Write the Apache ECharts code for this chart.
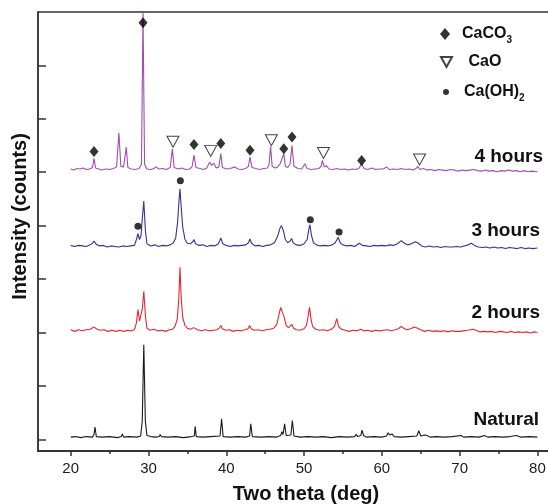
<!DOCTYPE html>
<html>
<head>
<meta charset="utf-8">
<script src="https://cdn.jsdelivr.net/npm/echarts@6/dist/echarts.min.js"></script>
<style>
  html, body { margin: 0; padding: 0; background: #fff; }
  #main { width: 548px; height: 504px; }
</style>
</head>
<body>
<div id="main"></div>
<script>
// XRD patterns, traces as [two theta, intensity above baseline]
var natural = [[20,0],[20.6,0.01],[21.3,-0.01],[22,0.01],[22.8,0],[23.0,0.05],[23.12,0.19],[23.3,0.01],[24,0],[25,0.01],[26,-0.01],[26.5,0.01],[26.65,0.06],[26.8,0],[27.5,0.01],[28.5,0],[29.0,0.02],[29.2,0.3],[29.4,1.73],[29.6,0.3],[29.8,0.03],[30.3,0.01],[31,0],[31.4,0.01],[31.5,0.05],[31.65,0.01],[32.5,0],[33.5,0.01],[34.5,-0.01],[35.5,0.01],[35.9,0.02],[36.0,0.2],[36.15,0.01],[37,0],[38,0.01],[39.2,0.02],[39.4,0.34],[39.6,0.01],[40.5,0],[41.5,0.01],[42.5,0],[43.0,0.02],[43.15,0.25],[43.35,0.01],[44.5,0],[45.5,0.01],[46.5,0],[47.0,0.03],[47.15,0.1],[47.3,0.05],[47.5,0.25],[47.7,0.03],[48.3,0.04],[48.5,0.31],[48.7,0.02],[49.5,0],[50.5,0.01],[51.5,0],[52.5,0.01],[53.5,-0.01],[54.5,0.01],[55.5,0],[56.5,0.01],[56.7,0.05],[56.9,0.01],[57.3,0.03],[57.45,0.13],[57.65,0.03],[58,0],[59,0.01],[60,0],[60.6,0.02],[60.8,0.08],[61.0,0.04],[61.3,0.06],[61.6,0.01],[62.5,0],[63.5,0.01],[64.5,0.02],[64.75,0.12],[65,0.02],[65.5,0.04],[65.8,0.03],[66.2,0],[67,0.01],[68,0],[69,0.01],[70.2,0.03],[70.5,0],[71.5,0.01],[72.5,0],[73.2,0.03],[73.6,0],[74.5,0.01],[75.5,0],[76.5,0.01],[77.3,0.03],[77.8,0],[79,0.01],[80,0]];
var twoHours = [[20,0.02],[20.5,-0.01],[21,0.02],[21.5,0],[22,0.02],[22.5,0.03],[23.0,0.07],[23.4,0.03],[23.8,0.01],[24.3,0.02],[24.8,-0.01],[25.3,0.01],[25.8,-0.01],[26.3,0.01],[26.8,-0.01],[27.3,0.01],[27.8,0],[28.2,0.02],[28.45,0.15],[28.65,0.40],[28.85,0.18],[29.0,0.15],[29.2,0.4],[29.4,0.74],[29.6,0.3],[29.8,0.05],[30.2,0.01],[30.7,0.03],[31.2,0],[31.7,0.01],[32.2,-0.01],[32.7,0.02],[33.1,0.03],[33.4,0.08],[33.7,0.22],[33.9,0.6],[34.05,1.19],[34.2,0.65],[34.4,0.25],[34.7,0.1],[35.0,0.05],[35.4,0.03],[35.8,0.06],[36.0,0.08],[36.3,0.02],[36.8,0],[37.3,0.02],[37.8,0],[38.3,0.01],[38.8,0.02],[39.1,0.05],[39.3,0.1],[39.5,0.04],[39.9,0.01],[40.4,0.02],[40.9,-0.01],[41.4,0.01],[41.9,0],[42.4,0.02],[42.8,0.04],[43.0,0.1],[43.2,0.04],[43.6,0.01],[44.1,0.02],[44.6,0],[45.1,0.02],[45.6,0.03],[46.1,0.05],[46.5,0.12],[46.8,0.32],[47.0,0.44],[47.2,0.35],[47.4,0.28],[47.7,0.1],[48.0,0.06],[48.25,0.08],[48.45,0.12],[48.65,0.05],[49.0,0.02],[49.5,0.01],[50.0,0.04],[50.3,0.1],[50.5,0.25],[50.7,0.44],[50.9,0.22],[51.1,0.08],[51.5,0.03],[52.0,0.01],[52.5,0.02],[53.0,0],[53.5,0.03],[53.9,0.08],[54.2,0.23],[54.45,0.08],[54.8,0.03],[55.3,0.01],[55.8,-0.01],[56.3,0.01],[56.8,0],[57.3,0.03],[57.7,0],[58.2,0.01],[58.7,-0.01],[59.2,0.01],[59.7,0],[60.2,0.01],[60.7,0.02],[61.2,0],[61.7,0.02],[62.1,0.04],[62.5,0.08],[62.8,0.05],[63.2,0.02],[63.7,0.04],[64.2,0.07],[64.6,0.05],[65.0,0.02],[65.5,-0.01],[66.0,0.01],[66.5,-0.01],[67.0,0],[67.5,-0.01],[68.0,0],[68.5,-0.02],[69.0,0],[69.5,-0.01],[70.0,-0.01],[70.5,0],[71.0,0.01],[71.4,0.02],[71.7,0.03],[72.1,0.01],[72.6,-0.02],[73.1,-0.01],[73.6,-0.02],[74.1,-0.01],[74.6,-0.03],[75.1,-0.01],[75.6,-0.02],[76.1,-0.03],[76.6,-0.01],[77.1,-0.03],[77.6,-0.02],[78.1,-0.03],[78.6,-0.02],[79.1,-0.04],[79.6,-0.02],[80,-0.03]];
var threeHours = [[20,0.01],[20.5,-0.01],[21,0.01],[21.5,0],[22,-0.01],[22.5,0.02],[22.8,0.05],[23.0,0.09],[23.3,0.03],[23.7,0],[24.2,0.01],[24.7,-0.02],[25.2,0],[25.7,-0.01],[26.2,-0.02],[26.7,0],[27.2,-0.01],[27.7,0],[28.2,0.01],[28.45,0.12],[28.65,0.23],[28.85,0.12],[29.05,0.2],[29.2,0.5],[29.4,0.84],[29.6,0.3],[29.8,0.04],[30.3,0],[30.8,0.02],[31.3,-0.01],[31.8,0.01],[32.3,0],[32.8,0.02],[33.2,0.06],[33.5,0.15],[33.75,0.45],[33.9,0.8],[34.05,1.07],[34.2,0.75],[34.4,0.35],[34.7,0.12],[35.0,0.05],[35.4,0.04],[35.7,0.08],[35.85,0.12],[36.05,0.04],[36.5,0.01],[37.0,0.02],[37.5,-0.01],[38.0,0.01],[38.5,0],[39.0,0.04],[39.3,0.15],[39.55,0.04],[40.0,0.01],[40.5,-0.01],[41.0,0.01],[41.5,0],[42.0,0.01],[42.5,0.02],[42.85,0.06],[43.05,0.13],[43.25,0.05],[43.7,0],[44.2,0.01],[44.7,-0.01],[45.2,0.01],[45.7,0.02],[46.2,0.06],[46.6,0.18],[46.9,0.33],[47.1,0.38],[47.35,0.28],[47.6,0.12],[47.9,0.06],[48.2,0.09],[48.4,0.14],[48.6,0.06],[49.0,0.02],[49.5,0.01],[50.0,0.04],[50.4,0.12],[50.6,0.3],[50.75,0.4],[50.95,0.2],[51.2,0.06],[51.6,0.02],[52.1,0],[52.6,0.01],[53.1,0],[53.6,0.02],[54.0,0.06],[54.4,0.16],[54.65,0.06],[55.0,0.02],[55.5,0],[56.0,0.01],[56.5,-0.01],[57.1,0.05],[57.5,0.01],[58.0,0],[58.5,-0.01],[59.0,0.01],[59.5,0],[60.0,0.01],[60.5,0],[61.0,0.02],[61.5,0.01],[62.0,0.04],[62.5,0.1],[62.9,0.05],[63.3,0.02],[63.8,0.04],[64.3,0.08],[64.7,0.05],[65.1,0],[65.6,-0.02],[66.1,0],[66.6,-0.02],[67.1,-0.01],[67.6,-0.03],[68.1,-0.01],[68.6,-0.02],[69.1,-0.02],[69.6,-0.01],[70.1,-0.02],[70.6,0],[71.1,0.02],[71.5,0.05],[71.9,0.01],[72.4,-0.02],[72.9,-0.03],[73.4,-0.02],[73.9,-0.04],[74.4,-0.02],[74.9,-0.04],[75.4,-0.03],[75.9,-0.05],[76.4,-0.03],[76.9,-0.04],[77.4,-0.05],[77.9,-0.03],[78.4,-0.05],[78.9,-0.04],[79.4,-0.05],[80,-0.04]];
var fourHours = [[20,0.01],[20.4,-0.01],[20.8,0.02],[21.2,0.01],[21.6,0.03],[22.0,0],[22.4,0.01],[22.8,0.04],[23.0,0.21],[23.2,0.03],[23.6,0.01],[24.0,-0.01],[24.5,0.01],[25.0,0],[25.5,0.02],[25.9,0.05],[26.2,0.69],[26.45,0.06],[26.8,0.05],[27.15,0.42],[27.35,0.04],[27.8,0.01],[28.3,0],[28.8,0.02],[29.1,0.1],[29.3,2.93],[29.5,0.1],[29.8,0.01],[30.3,0],[30.7,0.02],[31.0,0.05],[31.3,0.01],[31.8,0.02],[32.3,0],[32.8,0.04],[33.07,0.39],[33.3,0.04],[33.8,0.01],[34.3,0.03],[34.8,0],[35.3,0.01],[35.6,0.05],[35.85,0.27],[36.1,0.04],[36.6,0.02],[37.1,0],[37.5,0.03],[37.87,0.14],[38.1,0.08],[38.4,0.12],[38.7,0.03],[39.05,0.05],[39.3,0.3],[39.5,0.04],[40.0,0.01],[40.5,0.02],[41.1,0.05],[41.5,0.01],[42.0,0],[42.5,0.02],[42.85,0.06],[43.05,0.24],[43.3,0.04],[43.8,0.02],[44.3,0],[44.8,0.02],[45.3,0.03],[45.5,0.1],[45.7,0.43],[45.9,0.06],[46.3,0.03],[46.6,0.05],[46.9,0.1],[47.1,0.08],[47.4,0.3],[47.6,0.06],[47.9,0.04],[48.2,0.1],[48.45,0.45],[48.7,0.06],[49.2,0.02],[49.7,0.01],[50.1,0.11],[50.4,0.02],[50.9,0],[51.4,0.01],[51.9,0.02],[52.2,0.06],[52.35,0.17],[52.6,0.05],[52.9,0.07],[53.2,0.01],[53.7,0],[54.2,0.02],[54.7,0],[55.2,0.01],[55.7,-0.01],[56.2,0.01],[56.7,0],[57.1,0.03],[57.4,0.11],[57.7,0.02],[58.2,0],[58.7,0.03],[59.2,0],[59.7,0.01],[60.2,0.01],[60.6,0.05],[61.0,0],[61.5,0.01],[62.0,0],[62.5,0.02],[63.0,0],[63.5,0.01],[64.0,-0.01],[64.4,0.02],[64.6,0.06],[64.9,0],[65.3,0.02],[65.8,-0.01],[66.3,0],[66.8,-0.02],[67.3,0],[67.8,-0.01],[68.3,-0.02],[68.8,0],[69.3,-0.01],[69.8,-0.03],[70.3,-0.01],[70.8,-0.02],[71.3,-0.01],[71.8,0],[72.3,-0.02],[72.8,-0.03],[73.3,-0.01],[73.8,-0.03],[74.3,-0.02],[74.8,-0.04],[75.3,-0.02],[75.8,-0.03],[76.3,-0.01],[76.8,-0.03],[77.3,-0.02],[77.8,-0.04],[78.3,-0.02],[78.8,-0.04],[79.3,-0.03],[80,-0.04]];

var sampleNames = ['Natural', '2 hours', '3 hours', '4 hours'];
var baselines = [0.04, 2.03, 3.62, 5.05];
var traceColors = ['#1a1a1a', '#e8262f', '#3b2f98', '#a04fae'];

// phase markers [two theta, stacked height]
var caco3Marks = [[23.0,5.39],[29.3,7.8],[35.85,5.52],[39.3,5.54],[43.05,5.41],[47.4,5.44],[48.45,5.66],[57.4,5.22]];
var caoMarks = [[33.15,5.57],[38.0,5.4],[45.8,5.6],[52.5,5.36],[64.85,5.24]];
var caoh2Marks = [[28.65,3.99],[34.1,4.84],[50.8,4.11],[54.5,3.88]];

var xMajor = [20, 30, 40, 50, 60, 70, 80];
var xMinor = [25, 35, 45, 55, 65, 75];
var yTicks = [0, 1, 2, 3, 4, 5, 6, 7];

var font = '"Liberation Sans", Arial, sans-serif';
var traces = [natural, twoHours, threeHours, fourHours];
var triDown = 'path://M0,0 L10,0 L5,9 Z';

function shift(arr, base) {
  return arr.map(function (p) { return [p[0], p[1] + base]; });
}

var series = [];
traces.forEach(function (t, i) {
  series.push({
    name: sampleNames[i],
    type: 'line',
    data: shift(t, baselines[i]),
    showSymbol: false,
    silent: true,
    lineStyle: { width: 1.1, color: traceColors[i] },
    z: 2
  });
});
series.push({
  name: 'CaCO3', type: 'scatter', data: caco3Marks,
  symbol: 'diamond', symbolSize: [9, 11],
  itemStyle: { color: '#000' }, z: 5
});
series.push({
  name: 'CaO', type: 'scatter', data: caoMarks,
  symbol: triDown, symbolSize: [12, 11],
  itemStyle: { color: '#fff', borderColor: '#111', borderWidth: 1 }, z: 5
});
series.push({
  name: 'Ca(OH)2', type: 'scatter', data: caoh2Marks,
  symbol: 'circle', symbolSize: 7,
  itemStyle: { color: '#000' }, z: 5
});

var legendText = { 'CaCO3': 'CaCO{sub|3}', 'CaO': ' CaO', 'Ca(OH)2': 'Ca(OH){sub|2}' };
var legendStyle = {
  fontFamily: font, fontSize: 16, fontWeight: 'bold', color: '#111',
  lineHeight: 22, padding: [0, 0, 0, 7],
  rich: {
    sub: { fontFamily: font, fontSize: 10, fontWeight: 'bold', color: '#111', verticalAlign: 'bottom', lineHeight: 12 }
  }
};
function legendFmt(name) { return legendText[name]; }

var myChart = echarts.init(document.getElementById('main'));
var option = {
  animation: false,
  backgroundColor: '#fff',
  grid: {
    left: 38, top: 12, right: -26, bottom: 53,
    outerBoundsMode: 'none', containLabel: false,
    show: true, borderColor: '#333', borderWidth: 1.5
  },
  legend: [
    { left: 435, top: 18, itemWidth: 10, itemHeight: 12, data: ['CaCO3'], formatter: legendFmt, textStyle: legendStyle },
    { left: 435, top: 46, itemWidth: 11, itemHeight: 11, data: ['CaO'], formatter: legendFmt, textStyle: legendStyle },
    { left: 438, top: 76, itemWidth: 6, itemHeight: 6, data: ['Ca(OH)2'], formatter: legendFmt,
      textStyle: Object.assign({}, legendStyle, { padding: [0, 0, 0, 10] }) }
  ],
  xAxis: [
    {
      type: 'value', min: 15.8, max: 84.7,
      axisLine: { show: true, onZero: false, lineStyle: { color: '#333', width: 2 } },
      axisTick: { show: true, customValues: xMajor, length: 5, lineStyle: { color: '#333', width: 1.5 } },
      axisLabel: { customValues: xMajor, fontFamily: font, fontSize: 15, color: '#1a1a1a', margin: 10 },
      splitLine: { show: false },
      name: 'Two theta (deg)', nameLocation: 'middle', nameGap: 33,
      nameTextStyle: { fontFamily: font, fontSize: 20, fontWeight: 'bold', color: '#111' }
    },
    {
      type: 'value', min: 15.8, max: 84.7, position: 'bottom', offset: 0,
      axisLine: { show: false, onZero: false },
      axisTick: { show: true, customValues: xMinor, length: 3, lineStyle: { color: '#333', width: 1.5 } },
      axisLabel: { show: false },
      splitLine: { show: false }
    }
  ],
  yAxis: {
    type: 'value', min: -0.22, max: 8,
    axisLine: { show: true, onZero: false, lineStyle: { color: '#333', width: 1.5 } },
    axisTick: { show: true, inside: true, customValues: yTicks, length: 8, lineStyle: { color: '#333', width: 1.5 } },
    axisLabel: { show: false },
    splitLine: { show: false },
    name: 'Intensity (counts)', nameLocation: 'middle', nameGap: 8,
    nameTextStyle: { fontFamily: font, fontSize: 20, fontWeight: 'bold', color: '#111', padding: [0, 0, 0, 30] }
  },
  graphic: [
    { type: 'text', right: 5, top: 147, style: { text: '4 hours', font: 'bold 19px ' + font, fill: '#111' } },
    { type: 'text', right: 8, top: 221, style: { text: '3 hours', font: 'bold 19px ' + font, fill: '#111' } },
    { type: 'text', right: 8, top: 303, style: { text: '2 hours', font: 'bold 19px ' + font, fill: '#111' } },
    { type: 'text', right: 9, top: 410, style: { text: 'Natural', font: 'bold 19px ' + font, fill: '#111' } }
  ],
  series: series
};
myChart.setOption(option);
</script>
</body>
</html>
